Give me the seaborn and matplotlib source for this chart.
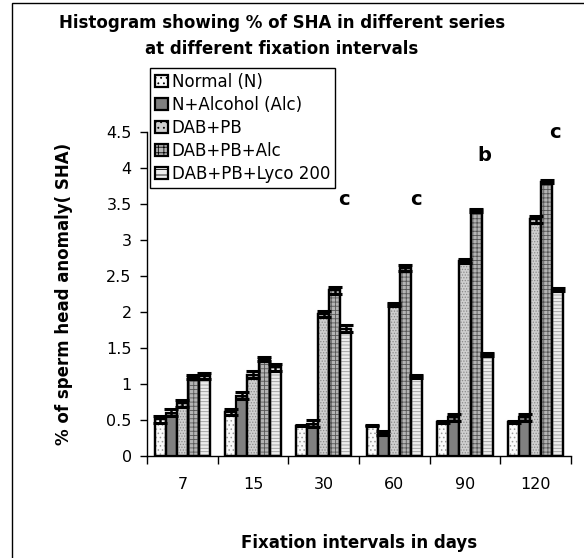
import matplotlib
matplotlib.use("Agg")
import matplotlib.pyplot as plt
import numpy as np
import pandas as pd
import seaborn as sns
from matplotlib.patches import Rectangle

# -----------------------------
# Data
# -----------------------------
intervals = ["7", "15", "30", "60", "90", "120"]
series = ["Normal (N)", "N+Alcohol (Alc)", "DAB+PB", "DAB+PB+Alc", "DAB+PB+Lyco 200"]

normal = [0.51, 0.61, 0.42, 0.42, 0.47, 0.47]
n_alc = [0.60, 0.84, 0.45, 0.32, 0.54, 0.54]
dab_pb = [0.73, 1.13, 1.97, 2.11, 2.71, 3.29]
dab_pb_alc = [1.10, 1.35, 2.30, 2.61, 3.41, 3.81]
dab_pb_lyco = [1.11, 1.23, 1.77, 1.11, 1.41, 2.31]

normal_err = [0.05, 0.04, 0.01, 0.01, 0.01, 0.01]
n_alc_err = [0.05, 0.05, 0.05, 0.03, 0.05, 0.05]
dab_pb_err = [0.05, 0.05, 0.04, 0.02, 0.03, 0.05]
dab_pb_alc_err = [0.03, 0.03, 0.05, 0.04, 0.02, 0.02]
dab_pb_lyco_err = [0.04, 0.05, 0.05, 0.02, 0.02, 0.02]

sig_letters = ["c", "c", "b", "c"]
sig_groups = ["30", "60", "90", "120"]

values = [normal, n_alc, dab_pb, dab_pb_alc, dab_pb_lyco]
errors = [normal_err, n_alc_err, dab_pb_err, dab_pb_alc_err, dab_pb_lyco_err]

df = pd.DataFrame(
    [
        {"interval": iv, "series": s, "value": v, "err": e}
        for s, vals, errs in zip(series, values, errors)
        for iv, v, e in zip(intervals, vals, errs)
    ]
)

# -----------------------------
# Style
# -----------------------------
sns.set_theme(style="white")
plt.rcParams["font.family"] = ["DejaVu Sans"]
plt.rcParams.update({
    "text.color": "black",
    "axes.labelcolor": "black",
    "xtick.color": "black",
    "ytick.color": "black",
    "hatch.linewidth": 0.6,
})

palette = ["#fafafa", "#808080", "#cfcfcf", "#b4b4b4", "#ececec"]
# fill textures, drawn as a light overlay inside the bars
textures = [("....", "#9a9a9a"), (None, None), ("......", "#8a8a8a"),
            ("++++", "#555555"), ("-----", "#9a9a9a")]

fig = plt.figure(figsize=(5.84, 5.58), dpi=100)
ax = fig.add_axes([147 / 584, 1 - 456 / 558, 424 / 584, 324 / 558])

sns.barplot(
    data=df,
    x="interval",
    y="value",
    hue="series",
    order=intervals,
    hue_order=series,
    palette=palette,
    width=0.78,
    errorbar=None,
    edgecolor="black",
    linewidth=1.6,
    saturation=1,
    ax=ax,
)

for container, (hatch, hcol) in zip(ax.containers, textures):
    if hatch is None:
        continue
    for p in container.patches:
        ax.add_patch(Rectangle(p.get_xy(), p.get_width(), p.get_height(),
                               fill=False, hatch=hatch, edgecolor=hcol,
                               linewidth=0, zorder=p.get_zorder() + 0.1))
    # re-draw outline above the texture
    for p in container.patches:
        ax.add_patch(Rectangle(p.get_xy(), p.get_width(), p.get_height(),
                               fill=False, edgecolor="black", linewidth=1.6,
                               zorder=p.get_zorder() + 0.2))

# error bars on top of each bar
for container, errs in zip(ax.containers, errors):
    xs = [p.get_x() + p.get_width() / 2 for p in container.patches]
    hs = [p.get_height() for p in container.patches]
    ax.errorbar(
        xs, hs, yerr=errs, fmt="none", ecolor="black",
        elinewidth=1.8, capsize=5, capthick=2.2, zorder=5,
    )

# significance letters
letter_x = [0.28, 0.3, 0.28, 0.27]
letter_y = [3.56, 3.56, 4.18, 4.49]
for g, lt, dx, y in zip(sig_groups, sig_letters, letter_x, letter_y):
    ax.text(intervals.index(g) + dx, y, lt, ha="center", va="center",
            fontsize=14, fontweight="bold")

# axes
ax.set_xlim(-0.5, len(intervals) - 0.5)
ax.set_ylim(0, 4.5)
yt = np.arange(0, 4.51, 0.5)
ax.set_yticks(yt)
ax.set_yticklabels([f"{t:g}" for t in yt], fontsize=11.5)
ax.set_xticks(range(len(intervals)))
ax.set_xticklabels(intervals, fontsize=11.5)
ax.set_xticks(np.arange(-0.5, len(intervals)), minor=True)
ax.tick_params(axis="x", which="major", length=0, pad=15)
ax.tick_params(axis="x", which="minor", length=6, width=1, color="black", direction="out", bottom=True)
ax.tick_params(axis="y", length=5, width=1, color="black", direction="out", left=True, pad=6)

for side in ["top", "right"]:
    ax.spines[side].set_visible(False)
for side in ["left", "bottom"]:
    ax.spines[side].set_color("black")
    ax.spines[side].set_linewidth(1)

ax.set_xlabel("Fixation intervals in days", fontsize=12, fontweight="bold")
ax.xaxis.set_label_coords(0.5, -0.24)
ax.set_ylabel("% of sperm head anomaly( SHA)", fontsize=12, fontweight="bold")
ax.yaxis.set_label_coords(-0.175, 0.5)

fig.text(282 / 584, 1 - 36 / 558,
         "Histogram showing % of SHA in different series\nat different fixation intervals",
         ha="center", va="center", fontsize=12, fontweight="bold", linespacing=1.5)

# legend
handles, labels = ax.get_legend_handles_labels()
for h, (hatch, hcol) in zip(handles, textures):
    if hatch is not None:
        h.set_hatch(hatch[:3])
        h.set_edgecolor("black")
leg = ax.legend(
    handles, labels,
    loc="upper left",
    bbox_to_anchor=(150 / 584, 1 - 68 / 558),
    bbox_transform=fig.transFigure,
    borderaxespad=0,
    fontsize=12,
    frameon=True,
    fancybox=False,
    edgecolor="black",
    framealpha=1,
    handlelength=0.75,
    handleheight=0.75,
    handletextpad=0.25,
    labelspacing=0.3,
    borderpad=0.3,
)
leg.get_frame().set_linewidth(1)

# outer chart frame
fig.patches.append(
    Rectangle((12 / 584, -0.05), 1.2, 1 - 3 / 558 + 0.05, transform=fig.transFigure,
              fill=False, edgecolor="black", linewidth=1)
)

fig.savefig("out.png", dpi=100)
plt.close(fig)
